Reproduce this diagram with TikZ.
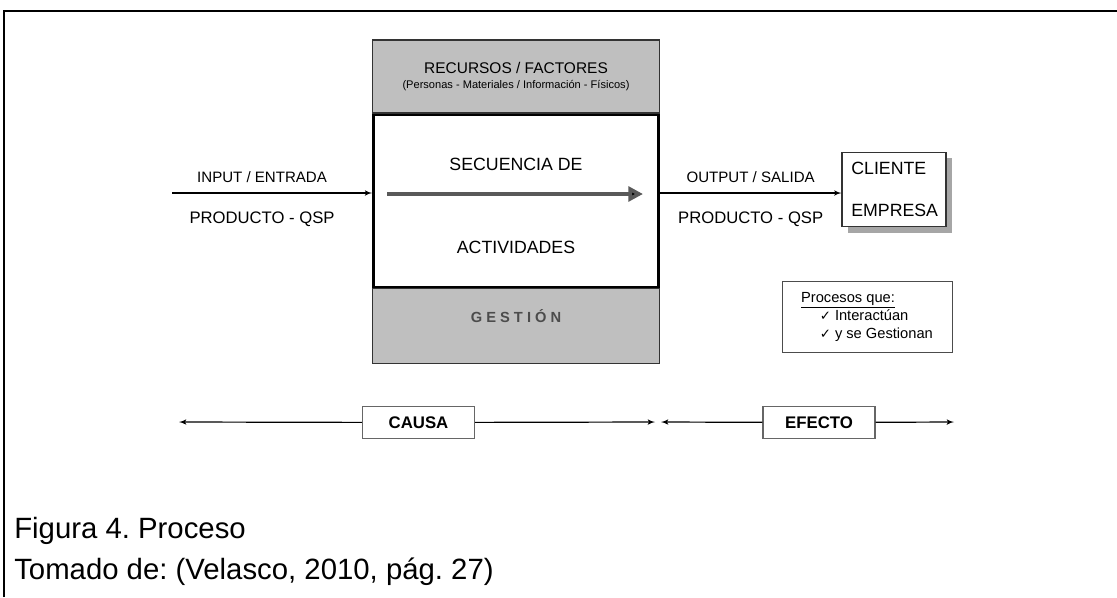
\documentclass[tikz,border=0pt]{standalone}
\usepackage{fontspec}
\setmainfont{Liberation Sans}
\newfontfamily\symfont{DejaVu Sans}
\usepackage{xcolor}
\frenchspacing
\usetikzlibrary{arrows, arrows.meta, positioning, shadows, calc}
\tikzstyle{band} = [rectangle, draw=black!80, line width=0.9pt, fill=gray!50, minimum width=215pt, inner sep=0pt, align=center]
\tikzstyle{core} = [rectangle, draw, line width=1.8pt, fill=white, minimum width=214pt, minimum height=129pt]
\tikzstyle{head} = [font=\fontsize{13.3}{15.5}\selectfont]
\tikzstyle{flowtext} = [font=\fontsize{11.3}{13}\selectfont]
\tikzstyle{prodtext} = [font=\fontsize{12.5}{14}\selectfont]
\tikzstyle{tag} = [rectangle, draw=black!60, line width=0.8pt, fill=white, minimum width=84pt, minimum height=24.5pt, font=\bfseries\fontsize{12.6}{14}\selectfont]
\tikzstyle{line} = [draw, line width=0.9pt, -latex']

\begin{document}
\begin{tikzpicture}[x=0.75pt, y=-0.75pt, node distance=0pt]
    \useasboundingbox (0,0) rectangle (1117,597);
    % Frame
    \draw[line width=2.2pt] (4,597) -- (4,11) -- (1117,11);

    % Nodes
    \node [band, minimum height=54.75pt] (recursos) at (516,76.5)
        {\fontsize{11.6}{13}\selectfont RECURSOS / FACTORES\\[-1pt]
         \fontsize{8.3}{10}\selectfont (Personas - Materiales / Información - Físicos)};
    \node [core, below=of recursos] (actividades) {};
    \node [band, minimum height=56pt, below=of actividades] (gestion) {};
    \node [font=\bfseries\fontsize{11}{13}\selectfont, text=black!70] (gtext) at ([yshift=7.5pt]gestion.center) {G E S T I Ó N};
    \node [head] (secuencia) at ([yshift=27pt]actividades.center) {SECUENCIA DE};
    \node [head] (acttext) at ([yshift=-35pt]actividades.center) {ACTIVIDADES};
    \coordinate (sa) at (387,194);
    \coordinate (sb) at (643,194);

    \node [rectangle, draw=black!80, line width=0.8pt, fill=white, minimum width=78pt, minimum height=56pt,
           head, align=left, text width=64pt,
           drop shadow={shadow xshift=4.5pt, shadow yshift=-4.5pt, fill=gray!70, opacity=1}] (cliente) at (894,189.5)
        {CLIENTE\\[16pt]EMPRESA};

    \node [rectangle, draw=black!70, minimum width=127.5pt, minimum height=53pt, align=left,
           font=\fontsize{11}{13.5}\selectfont] (procesos) at (867,316.5)
        {\underline{Procesos que:}\\
         \hspace{14pt}{\symfont\fontsize{10}{10}\selectfont ✓}\hspace{3pt}Interactúan\\
         \hspace{14pt}{\symfont\fontsize{10}{10}\selectfont ✓}\hspace{3pt}y se Gestionan};

    \node [tag] (causa) at (418.5,422.5) {CAUSA};
    \node [tag] (efecto) at (819,422.5) {EFECTO};
    \coordinate (flow) at (172,193);
    \coordinate (cl) at (179,422);
    \coordinate (cm) at (655,422);
    \coordinate (em) at (661,422);
    \coordinate (er) at (954,422);

    % Lines
    \path [line] (flow) -- node [flowtext, above=4pt, pos=0.45] (inlabel) {INPUT / ENTRADA}
        node [prodtext, below=10pt, pos=0.45] (inprod) {PRODUCTO - QSP} (flow -| actividades.west);
    \draw [line width=3.2pt, black!65, -{Triangle[length=11pt, width=11pt, fill=black]}] (sa) -- (sb);
    \path [line] (flow -| actividades.east) -- node [flowtext, above=4pt] (outlabel) {OUTPUT / SALIDA}
        node [prodtext, below=10pt] (outprod) {PRODUCTO - QSP} (flow -| cliente.west);
    \path [line] (causa) -- (cl);
    \path [line] (causa) -- (cm);
    \path [line] (efecto) -- (em);
    \path [line] (efecto) -- (er);

    % Caption
    \node [anchor=west, inner sep=0pt, font=\fontsize{22}{26}\selectfont] (fig) at (14,531) {Figura 4. Proceso};
    \node [anchor=west, inner sep=0pt, font=\fontsize{22}{26}\selectfont] (src) at (14,572) {Tomado de: (Velasco, 2010, pág. 27)};
\end{tikzpicture}
\end{document}
